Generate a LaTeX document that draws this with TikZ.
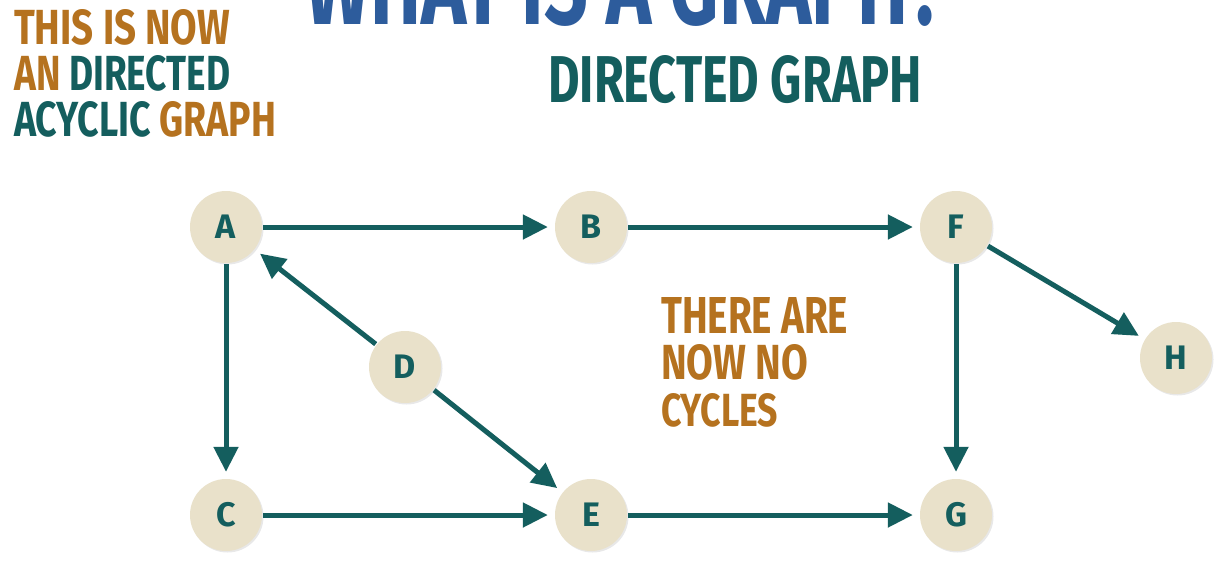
\documentclass[tikz,border=0pt]{standalone}
\usepackage{fontspec}
\setmainfont{Fira Sans}
\usetikzlibrary{arrows.meta,shadows}
\definecolor{dteal}{HTML}{145E5E}
\definecolor{dorange}{HTML}{B5721F}
\definecolor{dblue}{HTML}{2D5C9C}
\definecolor{nodefill}{HTML}{E9E1CA}
\newcommand{\fitt}[3]{\resizebox{#1pt}{#2pt}{#3}}
\tikzset{
  gnode/.style={circle, minimum size=72pt, inner sep=0pt, fill=nodefill,
    drop shadow={opacity=0.18, shadow xshift=1.5pt, shadow yshift=-1.5pt},
    text=dteal, font=\bfseries\fontsize{34}{34}\selectfont},
  link/.style={draw=dteal, line width=5pt, -{Triangle[length=25pt,width=24pt]},
    shorten >=7pt, shorten <=1pt},
  txt/.style={anchor=south west, inner sep=0pt, font=\bfseries}
}
\begin{document}
\begin{tikzpicture}[x=1pt,y=-1pt]
\useasboundingbox (0,0) rectangle (1221,563);
\clip (0,0) rectangle (1221,563);
\fill[white] (0,0) rectangle (1221,563);
% title (cut off at top, as in the reference)
\node[txt, text=dblue] (title) at (305,27) {\fitt{640}{82}{WHAT IS A GRAPH?}};
% left text
\node[txt, text=dorange] (l1) at (14,46) {\fitt{216}{35}{THIS IS NOW}};
\node[txt] (l2) at (14,92) {\fitt{216}{35}{\color{dorange}AN \color{dteal}DIRECTED}};
\node[txt] (l3) at (14,138) {\fitt{262}{35}{\color{dteal}ACYCLIC \color{dorange}GRAPH}};
% subtitle
\node[txt, text=dteal] (sub) at (548,104) {\fitt{374}{47}{DIRECTED GRAPH}};
% note
\node[txt, text=dorange] (n1) at (661,334) {\fitt{187}{36}{THERE ARE}};
\node[txt, text=dorange] (n2) at (661,381) {\fitt{147}{35}{NOW NO}};
\node[txt, text=dorange] (n3) at (661,427) {\fitt{117}{33}{CYCLES}};
% nodes
\node[gnode] (A) at (226,227) {A};
\node[gnode] (B) at (591,227) {B};
\node[gnode] (F) at (956,227) {F};
\node[gnode] (H) at (1176,358) {H};
\node[gnode] (D) at (405,367) {D};
\node[gnode] (C) at (226,515) {C};
\node[gnode] (E) at (591,515) {E};
\node[gnode] (G) at (956,515) {G};
% edges
\draw[link] (A) -- (B);
\draw[link] (B) -- (F);
\draw[link] (F) -- (G);
\draw[link] (F) -- (H);
\draw[link] (A) -- (C);
\draw[link] (D) -- (A);
\draw[link] (D) -- (E);
\draw[link] (C) -- (E);
\draw[link] (E) -- (G);
\end{tikzpicture}
\end{document}
